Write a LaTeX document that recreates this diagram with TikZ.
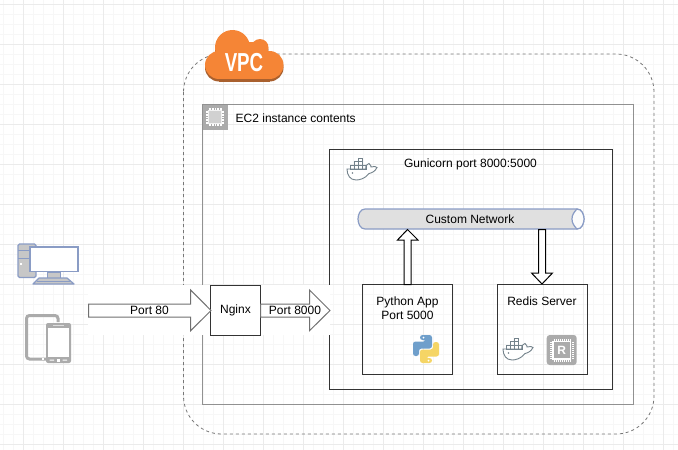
\documentclass[tikz,border=0pt]{standalone}
\usepackage{fontspec}
\setmainfont{Liberation Sans}
\definecolor{gridmin}{HTML}{F7F7F7}
\definecolor{gridmaj}{HTML}{EBEBEB}
\definecolor{vpcdash}{HTML}{777777}
\definecolor{ecline}{HTML}{919191}
\definecolor{dark}{HTML}{333333}
\definecolor{blueline}{HTML}{8A9CC5}
\definecolor{cylfill}{HTML}{E0E0E0}
\definecolor{awsorange}{HTML}{F58536}
\definecolor{awsbrown}{HTML}{A9602E}
\definecolor{icongray}{HTML}{ABABAB}
\definecolor{whale}{HTML}{73828B}
\definecolor{pyblue}{HTML}{6F9FCB}
\definecolor{pyyellow}{HTML}{F5D565}
\newcommand{\cloudshape}[1]{%
  \fill[#1] (219,65) circle (14) (269.5,65) circle (14) (232.5,47.5) circle (17.5) (260,47.5) circle (8.5);
  \fill[#1] (219,55) rectangle (269.5,79);
  \fill[#1] (232,47) rectangle (262,60);
  \fill[#1] (245,42) rectangle (262,50);
}
\tikzset{
  lbl/.style={font=\fontsize{12}{14}\selectfont,text=black,inner sep=0pt,align=center},
  boxn/.style={draw=dark,line width=1pt,fill=none,inner sep=0pt},
  bigarrow/.style={draw=dark!70,line width=1pt,fill=white,line join=miter},
  whaleicon/.pic={
    \draw[whale,line width=.9pt,fill=white] (-15,0) -- (4,0) .. controls (3,-3) and (5,-5) .. (7,-5.5) .. controls (9,-4) and (9,-2.5) .. (9,-2) .. controls (12,-3) and (14,-2.5) .. (15,-1.5) .. controls (13,3) and (9,4) .. (7,4.5) .. controls (3,10) and (-3,11) .. (-6,11) .. controls (-12,11) and (-15,6) .. (-15,0) -- cycle;
    \foreach \x in {-12,-8,-4,0} \draw[whale,line width=.6pt] (\x,-4) rectangle +(4,4);
    \foreach \x in {-8,-4} \draw[whale,line width=.6pt] (\x,-8) rectangle +(4,4);
    \draw[whale,line width=.6pt] (-4,-11) rectangle +(4,3);
    \fill[whale] (-9.5,4) circle (.8);
  }
}
\begin{document}
\begin{tikzpicture}[x=1pt,y=-1pt]
\useasboundingbox (0,0) rectangle (678,450);
\fill[white] (0,0) rectangle (678,450);
% grid
\foreach \x in {3,13,...,673} \draw[gridmin,line width=.6pt] (\x,0) -- (\x,450);
\foreach \y in {4,14,...,444} \draw[gridmin,line width=.6pt] (0,\y) -- (678,\y);
\foreach \x in {23,63,...,663} \draw[gridmaj,line width=.7pt] (\x,0) -- (\x,450);
\foreach \y in {4,44,...,444} \draw[gridmaj,line width=.7pt] (0,\y) -- (678,\y);
% containers
\draw[vpcdash,line width=.8pt,dash pattern=on 3pt off 3pt,rounded corners=38pt] (183.5,54) rectangle (654,434);
\draw[ecline,line width=1pt] (202.5,104.5) rectangle (633,404);
\node[lbl,anchor=west] (ectext) at (235.5,118.5) {EC2 instance contents};
\fill[icongray] (202.5,104.5) rectangle (227.5,129.5);
\draw[white!85!icongray,line width=.8pt,fill=white!45!icongray] (208.5,110.5) rectangle (221.5,123.5);
\draw[white,line width=1.4pt,dash pattern=on .8pt off .8pt] (207,110.5) -- (207,123.5) (223,110.5) -- (223,123.5) (208.5,109) -- (221.5,109) (208.5,125) -- (221.5,125);
\node[boxn,minimum width=282.5pt,minimum height=240pt,anchor=north west] (docker) at (329,149) {};
\pic at (362,169) {whaleicon};
\node[lbl] (guni) at (470.5,164.5) {Gunicorn port 8000:5000};
% white backing
\fill[white] (88,285) rectangle (211,335);
\fill[white] (260,285) rectangle (330,335);
% boxes
\node[boxn,fill=white,minimum width=50pt,minimum height=50pt,anchor=north west] (nginx) at (210,285) {};
\node[lbl] (nginxtext) at (nginx) {Nginx};
\node[boxn,minimum width=90pt,minimum height=90pt,anchor=north west] (py) at (362,284) {};
\node[lbl] (pytext) at (407.5,308.7) {Python App\\Port 5000};
\node[boxn,minimum width=90pt,minimum height=90pt,anchor=north west] (redis) at (496.5,284) {};
\node[lbl] (redistext) at (542,301.7) {Redis Server};
% cylinder
\path[fill=cylfill,draw=blueline,line width=1.2pt] (365,209) -- (577,209) .. controls (582,209) and (584,215) .. (584,219) .. controls (584,223) and (582,229) .. (577,229) -- (365,229) .. controls (360,229) and (358,223) .. (358,219) .. controls (358,215) and (360,209) .. (365,209) -- cycle;
\path[fill=white!90!cylfill,draw=blueline,line width=1.2pt] (577,209) .. controls (574,212) and (572,215) .. (572,219) .. controls (572,223) and (574,226) .. (577,229) .. controls (582,229) and (584,223) .. (584,219) .. controls (584,215) and (582,209) .. (577,209) -- cycle;
\node[lbl] (net) at (470,219.5) {Custom Network};
% arrows
\draw[bigarrow] (88.5,304) -- (190.7,304) -- (190.7,290) -- (211,310.5) -- (190.7,330.7) -- (190.7,317) -- (88.5,317) -- cycle;
\node[lbl] (p80) at (149.5,310.5) {Port 80};
\draw[bigarrow] (260.5,304) -- (309.5,304) -- (309.5,290) -- (330,310.5) -- (309.5,330.7) -- (309.5,317) -- (260.5,317) -- cycle;
\node[lbl] (p8000) at (295,310.5) {Port 8000};
\draw[bigarrow,draw=black] (404,284.5) -- (404,240) -- (397.5,240) -- (407.5,229.5) -- (418,240) -- (411,240) -- (411,284.5) -- cycle;
\draw[bigarrow,draw=black] (538.5,229.5) -- (538.5,273) -- (531.5,273) -- (542,284) -- (552.5,273) -- (545.5,273) -- (545.5,229.5) -- cycle;
% python logo
\begin{scope}[shift={(426,349)}]
\path[fill=pyblue,rounded corners=2.5pt] (-6,-14) -- (6,-14) -- (6,-0.5) -- (-7,-0.5) -- (-7,7) -- (-13,7) -- (-13,-7.5) -- (0,-7.5) -- (0,-9) -- (-6,-9) -- cycle;
\path[fill=pyyellow,rounded corners=2.5pt] (6,14) -- (-6,14) -- (-6,0.5) -- (7,0.5) -- (7,-7) -- (13,-7) -- (13,7.5) -- (0,7.5) -- (0,9) -- (6,9) -- cycle;
\fill[white] (-2.5,-11.5) circle (1) (2.5,11.5) circle (1);
\end{scope}
\pic at (518,349) {whaleicon};
% redis chip
\fill[icongray,rounded corners=3pt] (546.7,335) rectangle (576.7,365);
\draw[white,line width=1.2pt,fill=icongray] (553,341.5) rectangle (570.5,359);
\draw[white,line width=2pt,dash pattern=on 1pt off 1pt] (551,342) -- (551,358.5) (572.5,342) -- (572.5,358.5) (553.5,339.5) -- (570,339.5) (553.5,361) -- (570,361);
\node[font=\bfseries\fontsize{12}{14}\selectfont,text=white,inner sep=0pt] (rr) at (561.7,350.2) {R};
% desktop
\draw[blueline,line width=1.4pt,fill=black!22,rounded corners=1.5pt] (18,244) rectangle (36,277.5);
\draw[blueline,line width=.9pt] (18,250) -- (31,250) (18,258) -- (31,258);
\fill[white] (20,262.5) rectangle (22,264.5);
\draw[blueline,line width=1.6pt,fill=white] (30,246.8) rectangle (77.8,271.5);
\draw[blueline,line width=.9pt,fill=black!22] (47.5,272) rectangle (60,278);
\draw[blueline,line width=1.2pt,fill=black!22,line join=round] (39,278) -- (67,278) -- (74,284) -- (33,284) -- cycle;
\draw[blueline,line width=.8pt] (37,281) -- (70,281);
% tablet and phone
\draw[icongray,line width=3pt,rounded corners=3pt] (58,322) -- (58,315.5) -- (26.5,315.5) -- (26.5,359) -- (46,359);
\fill[white] (41.5,357.5) rectangle (44,360);
\fill[icongray,rounded corners=2pt] (46,323) rectangle (71,363);
\fill[white] (47.7,328) rectangle (69.3,357);
\fill[white] (56.5,358.5) rectangle (60,361.5);
\fill[white] (49.5,359.5) rectangle (54,360.5) (62.5,359.5) rectangle (67,360.5);
\draw[white!60!icongray,line width=.7pt] (53,325.5) -- (64,325.5);
% cloud
\begin{scope}[yshift=-2.5pt]
\cloudshape{awsbrown}
\end{scope}
\cloudshape{awsorange}
\node[inner sep=0pt,text=white,font=\bfseries\fontsize{26}{26}\selectfont,xscale=.72] (vpc) at (244,62.5) {VPC};
\end{tikzpicture}
\end{document}
